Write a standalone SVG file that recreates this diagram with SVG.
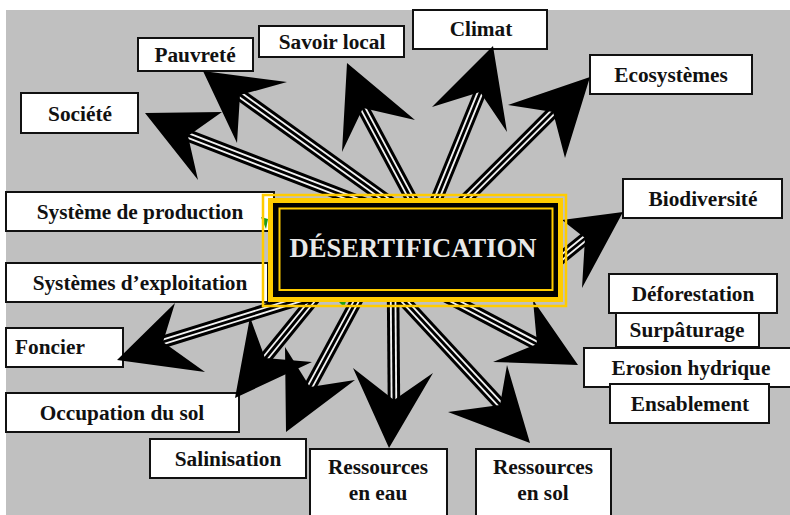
<svg xmlns="http://www.w3.org/2000/svg" width="790" height="515" viewBox="0 0 790 515">
  <style>
    .box { fill: #ffffff; stroke: #111111; stroke-width: 2; }
    .lbl { font-family: "Liberation Serif", "Times New Roman", serif; font-weight: bold; font-size: 21.3px; fill: #111111; text-anchor: middle; }
    .s1 { stroke: #000000; stroke-width: 12.5; fill: none; }
    .s2 { stroke: #f2f2f2; stroke-width: 6.5; fill: none; }
    .s3 { stroke: #000000; stroke-width: 2.8; fill: none; }
    .head { fill: #000000; }
    .mark { fill: #1f9a1f; }
    .gold { fill: none; stroke: #ffcc00; }
  </style>

  <!-- backdrop -->
  <rect x="0" y="0" width="790" height="515" fill="#ffffff"/>
  <rect x="6" y="10" width="784" height="505" fill="#c0c0c0"/>

  <!-- outer nodes -->
  <g id="node-societe"><rect class="box" x="21" y="93" width="117" height="40"/><text class="lbl" x="80" y="121">Société</text></g>
  <g id="node-pauvrete"><rect class="box" x="138" y="38" width="115" height="33"/><text class="lbl" x="195" y="62">Pauvreté</text></g>
  <g id="node-savoir-local"><rect class="box" x="259" y="26" width="145" height="31"/><text class="lbl" x="332" y="49">Savoir local</text></g>
  <g id="node-climat"><rect class="box" x="413" y="10" width="134" height="39"/><text class="lbl" x="481" y="36">Climat</text></g>
  <g id="node-ecosystemes"><rect class="box" x="590" y="55" width="162" height="39"/><text class="lbl" x="671" y="82">Ecosystèmes</text></g>
  <g id="node-biodiversite"><rect class="box" x="623" y="179" width="159" height="39"/><text class="lbl" x="703" y="206">Biodiversité</text></g>
  <g id="node-deforestation"><rect class="box" x="609" y="274" width="168" height="39"/><text class="lbl" x="693" y="301">Déforestation</text></g>
  <g id="node-surpaturage"><rect class="box" x="616" y="313" width="143" height="34"/><text class="lbl" x="687" y="337">Surpâturage</text></g>
  <g id="node-erosion-hydrique"><rect class="box" x="584" y="348" width="216" height="39"/><text class="lbl" x="691" y="375">Erosion hydrique</text></g>
  <g id="node-ensablement"><rect class="box" x="610" y="384" width="159" height="39"/><text class="lbl" x="690" y="411">Ensablement</text></g>
  <g id="node-ressources-sol"><rect class="box" x="476" y="449" width="135" height="75"/><text class="lbl" x="543" y="474">Ressources</text><text class="lbl" x="543" y="500">en sol</text></g>
  <g id="node-ressources-eau"><rect class="box" x="310" y="449" width="137" height="75"/><text class="lbl" x="378" y="474">Ressources</text><text class="lbl" x="378" y="500">en eau</text></g>
  <g id="node-salinisation"><rect class="box" x="150" y="439" width="156" height="39"/><text class="lbl" x="228" y="466">Salinisation</text></g>
  <g id="node-occupation-sol"><rect class="box" x="6" y="393" width="233" height="39"/><text class="lbl" x="122" y="420">Occupation du sol</text></g>
  <g id="node-foncier"><rect class="box" x="6" y="328" width="117" height="39"/><text class="lbl" x="50" y="354">Foncier</text></g>
  <g id="node-systemes-exploitation"><rect class="box" x="6" y="263" width="262" height="39"/><text class="lbl" x="140" y="290">Systèmes d’exploitation</text></g>
  <g id="node-systeme-production"><rect class="box" x="6" y="192" width="268" height="39"/><text class="lbl" x="140" y="219">Système de production</text></g>

  <!-- connectors: striped shafts and notched heads -->
  <g id="connectors">
    <g id="to-societe">
      <line class="s1" x1="420" y1="225" x2="179" y2="132"/><line class="s2" x1="420" y1="225" x2="179" y2="132"/><line class="s3" x1="420" y1="225" x2="179" y2="132"/>
      <polygon class="head" points="145,113 222,112 188,136 198,180"/>
    </g>
    <g id="to-pauvrete">
      <line class="s1" x1="420" y1="224" x2="232" y2="89"/><line class="s2" x1="420" y1="224" x2="232" y2="89"/><line class="s3" x1="420" y1="224" x2="232" y2="89"/>
      <polygon class="head" points="203,71 287,82 240,95 237,143"/>
    </g>
    <g id="to-savoir-local">
      <line class="s1" x1="428" y1="230" x2="358" y2="99"/><line class="s2" x1="428" y1="230" x2="358" y2="99"/><line class="s3" x1="428" y1="230" x2="358" y2="99"/>
      <polygon class="head" points="347,63 415,120 363,108 342,152"/>
    </g>
    <g id="to-climat">
      <line class="s1" x1="424" y1="230" x2="484" y2="83"/><line class="s2" x1="424" y1="230" x2="484" y2="83"/><line class="s3" x1="424" y1="230" x2="484" y2="83"/>
      <polygon class="head" points="493,46 507,132 480,92 432,107"/>
    </g>
    <g id="to-ecosystemes">
      <line class="s1" x1="435" y1="230" x2="560" y2="105"/><line class="s2" x1="435" y1="230" x2="560" y2="105"/><line class="s3" x1="435" y1="230" x2="560" y2="105"/>
      <polygon class="head" points="590,77 565,158 553,112 508,105"/>
    </g>
    <g id="to-biodiversite">
      <line class="s1" x1="540" y1="275" x2="593" y2="232"/><line class="s2" x1="540" y1="275" x2="593" y2="232"/><line class="s3" x1="540" y1="275" x2="593" y2="232"/>
      <polygon class="head" points="623,212 582,288 585,238 562,220"/>
    </g>
    <g id="to-erosion-hydrique">
      <line class="s1" x1="430" y1="288" x2="546" y2="349"/><line class="s2" x1="430" y1="288" x2="546" y2="349"/><line class="s3" x1="430" y1="288" x2="546" y2="349"/>
      <polygon class="head" points="578,365 493,362 537,344 533,300"/>
    </g>
    <g id="to-ressources-sol">
      <line class="s1" x1="395" y1="291" x2="507" y2="412"/><line class="s2" x1="395" y1="291" x2="507" y2="412"/><line class="s3" x1="395" y1="291" x2="507" y2="412"/>
      <polygon class="head" points="530,443 448,412 500,405 507,365"/>
    </g>
    <g id="to-ressources-eau">
      <line class="s1" x1="393" y1="285" x2="394" y2="410"/><line class="s2" x1="393" y1="285" x2="394" y2="410"/><line class="s3" x1="393" y1="285" x2="394" y2="410"/>
      <polygon class="head" points="389,448 353,368 394,400 433,373"/>
    </g>
    <g id="to-salinisation">
      <line class="s1" x1="365" y1="285" x2="305" y2="396"/><line class="s2" x1="365" y1="285" x2="305" y2="396"/><line class="s3" x1="365" y1="285" x2="305" y2="396"/>
      <polygon class="head" points="286,432 285,347 310,387 355,380"/>
    </g>
    <g id="to-occupation-sol">
      <line class="s1" x1="325" y1="285" x2="259" y2="366"/><line class="s2" x1="325" y1="285" x2="259" y2="366"/><line class="s3" x1="325" y1="285" x2="259" y2="366"/>
      <polygon class="head" points="235,398 250,317 265,358 312,362"/>
    </g>
    <g id="to-foncier">
      <line class="s1" x1="320" y1="293" x2="153" y2="345"/><line class="s2" x1="320" y1="293" x2="153" y2="345"/><line class="s3" x1="320" y1="293" x2="153" y2="345"/>
      <polygon class="head" points="117,360 175,303 163,342 205,372"/>
    </g>
    <polygon class="mark" points="261,217 268,219 266,229"/>
    <polygon class="mark" points="338,301 347,299 344,307"/>
  </g>

  <!-- central node -->
  <g id="node-desertification">
    <rect class="gold" x="263" y="195" width="303" height="111" stroke-width="2.5"/>
    <rect class="gold" x="270.5" y="200.5" width="290" height="99" stroke-width="5"/>
    <rect x="273" y="203" width="285" height="94" fill="#000000"/>
    <rect class="gold" x="279.5" y="208.5" width="273" height="81.5" stroke-width="2"/>
    <text x="413" y="257" font-family="'Liberation Serif', 'Times New Roman', serif" font-weight="bold" font-size="26.6" fill="#e8e8e8" text-anchor="middle">DÉSERTIFICATION</text>
  </g>
</svg>
